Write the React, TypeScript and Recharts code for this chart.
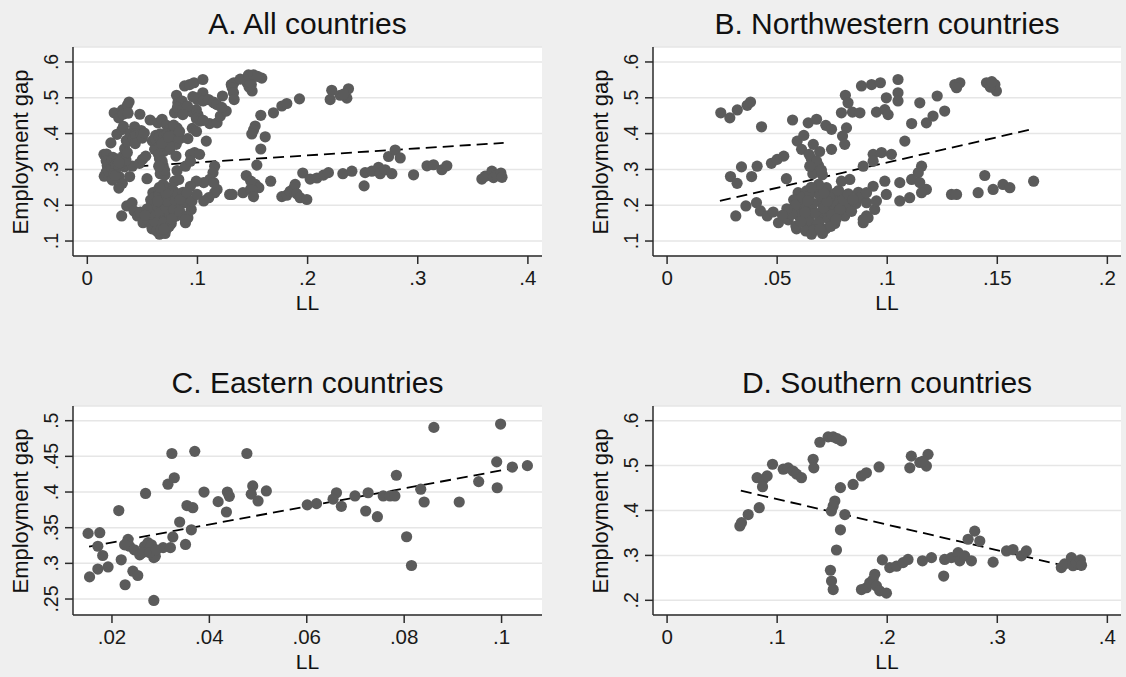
import { ScatterChart, Scatter, XAxis, YAxis, CartesianGrid, ReferenceLine } from "recharts";

// [LL, employment gap] pairs
const northwestern: [number, number][] = [
  [0.0244, 0.458], [0.0285, 0.444], [0.0319, 0.466], [0.0364, 0.479], [0.0379, 0.488], [0.0429, 0.419], [0.057, 0.438],
  [0.0288, 0.28], [0.0318, 0.261], [0.0338, 0.307], [0.0384, 0.28], [0.0409, 0.309], [0.0474, 0.317], [0.05, 0.328],
  [0.053, 0.337], [0.0542, 0.274], [0.0312, 0.17], [0.0358, 0.198], [0.0406, 0.207], [0.0424, 0.184], [0.0455, 0.17],
  [0.0482, 0.181], [0.0506, 0.151], [0.055, 0.159], [0.0588, 0.134], [0.0633, 0.144],
  [0.0595, 0.235], [0.0633, 0.24], [0.0679, 0.242], [0.0724, 0.249], [0.0762, 0.233], [0.0797, 0.226], [0.0618, 0.202],
  [0.0656, 0.193], [0.0701, 0.207], [0.0742, 0.196], [0.0785, 0.202], [0.06, 0.17], [0.0645, 0.159], [0.0691, 0.17],
  [0.0732, 0.162], [0.0773, 0.179], [0.0585, 0.142], [0.063, 0.128], [0.0676, 0.14], [0.0721, 0.134], [0.0762, 0.149],
  [0.0656, 0.119], [0.0706, 0.121], [0.0603, 0.188], [0.0671, 0.179], [0.0717, 0.184], [0.0755, 0.212], [0.0807, 0.17],
  [0.0815, 0.198],
  [0.0575, 0.215], [0.0612, 0.222], [0.0648, 0.228], [0.0695, 0.226], [0.0738, 0.222], [0.0779, 0.241], [0.0608, 0.155],
  [0.0662, 0.205], [0.0689, 0.152], [0.0709, 0.193], [0.0728, 0.211], [0.0751, 0.174], [0.0786, 0.188], [0.0801, 0.214],
  [0.0626, 0.18], [0.0582, 0.2], [0.0667, 0.131], [0.0744, 0.141], [0.0694, 0.133], [0.0638, 0.212], [0.0712, 0.234],
  [0.0768, 0.161], [0.0823, 0.232], [0.0858, 0.205], [0.0838, 0.183], [0.0869, 0.236], [0.0567, 0.175], [0.0544, 0.19],
  [0.0524, 0.172], [0.0688, 0.258], [0.0655, 0.25],
  [0.0662, 0.288], [0.0688, 0.31], [0.0705, 0.285], [0.0655, 0.33], [0.0693, 0.35],
  [0.0591, 0.379], [0.0621, 0.395], [0.0641, 0.43], [0.0679, 0.44], [0.0721, 0.423], [0.0747, 0.412], [0.0611, 0.356],
  [0.0645, 0.342], [0.0664, 0.37], [0.0679, 0.323], [0.0701, 0.298], [0.0648, 0.309], [0.0747, 0.356],
  [0.0792, 0.458], [0.081, 0.507], [0.0822, 0.486], [0.0842, 0.46], [0.0876, 0.458], [0.0883, 0.533], [0.0929, 0.537],
  [0.0815, 0.416], [0.0797, 0.393], [0.0807, 0.37], [0.0792, 0.267], [0.083, 0.272], [0.0876, 0.221], [0.0906, 0.207],
  [0.0943, 0.188], [0.0913, 0.165], [0.0891, 0.151], [0.0845, 0.216],
  [0.0969, 0.542], [0.1049, 0.551], [0.1049, 0.514], [0.1049, 0.491], [0.0996, 0.5], [0.0951, 0.46], [0.0989, 0.467],
  [0.1004, 0.453], [0.1148, 0.486], [0.1227, 0.505], [0.1111, 0.428], [0.1178, 0.43], [0.1208, 0.449], [0.1261, 0.463],
  [0.1307, 0.537], [0.133, 0.542], [0.1315, 0.528], [0.1451, 0.542], [0.1489, 0.537], [0.1496, 0.519], [0.1468, 0.53],
  [0.1475, 0.545], [0.108, 0.379], [0.0936, 0.342], [0.0974, 0.347], [0.1019, 0.342], [0.0891, 0.309], [0.0936, 0.323],
  [0.1156, 0.309], [0.1141, 0.291], [0.1111, 0.272], [0.1057, 0.263], [0.1178, 0.244], [0.1156, 0.235], [0.1102, 0.221],
  [0.1057, 0.212], [0.1148, 0.263], [0.0989, 0.267], [0.0936, 0.253], [0.0906, 0.235], [0.0951, 0.212], [0.0996, 0.23],
  [0.0906, 0.17], [0.0891, 0.16], [0.1292, 0.23], [0.1315, 0.23], [0.1413, 0.235], [0.1443, 0.283], [0.1481, 0.244],
  [0.1526, 0.258], [0.1557, 0.249], [0.1665, 0.267],
];

const eastern: [number, number][] = [
  [0.0151, 0.342], [0.0175, 0.343], [0.0171, 0.324], [0.0181, 0.311], [0.0154, 0.281], [0.0171, 0.292], [0.0192, 0.295],
  [0.0214, 0.374], [0.0219, 0.305], [0.0227, 0.27], [0.0233, 0.3335], [0.0236, 0.324], [0.0226, 0.326], [0.0243, 0.289],
  [0.0253, 0.283], [0.0246, 0.319], [0.0257, 0.312], [0.0267, 0.324], [0.0274, 0.329], [0.0281, 0.326], [0.0263, 0.315],
  [0.0286, 0.308], [0.0269, 0.398], [0.0289, 0.31], [0.0286, 0.248], [0.0305, 0.322], [0.032, 0.322], [0.0315, 0.411],
  [0.0328, 0.42], [0.0323, 0.454], [0.0325, 0.337], [0.0339, 0.358], [0.0351, 0.3265], [0.0354, 0.381], [0.0366, 0.378],
  [0.0363, 0.347], [0.037, 0.457], [0.0389, 0.4], [0.0418, 0.3865], [0.0437, 0.4], [0.0441, 0.394], [0.0435, 0.372],
  [0.0477, 0.454], [0.0489, 0.4085], [0.0486, 0.397], [0.05, 0.3875], [0.0517, 0.4015], [0.0277, 0.315], [0.0291, 0.319],
  [0.0601, 0.382], [0.062, 0.3837], [0.0661, 0.399], [0.0654, 0.39], [0.0671, 0.38], [0.0699, 0.3945], [0.0721, 0.3734],
  [0.0726, 0.399], [0.0745, 0.3654], [0.0757, 0.3945], [0.0771, 0.3945], [0.0781, 0.3945], [0.0784, 0.4235],
  [0.0805, 0.3373], [0.0815, 0.297], [0.0834, 0.404], [0.0841, 0.386], [0.0861, 0.4906], [0.0913, 0.386],
  [0.0953, 0.4146], [0.099, 0.4423], [0.0991, 0.406], [0.0998, 0.4953], [0.1022, 0.435], [0.1053, 0.437],
];

const southern: [number, number][] = [
  [0.0661, 0.3656], [0.0676, 0.373], [0.0737, 0.391], [0.0837, 0.4063], [0.0818, 0.473], [0.0873, 0.469], [0.0909, 0.477],
  [0.0867, 0.453], [0.0958, 0.503], [0.1055, 0.492], [0.11, 0.495], [0.1145, 0.488], [0.1176, 0.481], [0.1221, 0.473],
  [0.1327, 0.514], [0.1333, 0.495], [0.1388, 0.552], [0.1463, 0.564], [0.1509, 0.564], [0.1584, 0.555], [0.1545, 0.56],
  [0.1575, 0.451], [0.1524, 0.421], [0.1509, 0.41], [0.1493, 0.399], [0.1615, 0.391], [0.1575, 0.357], [0.1539, 0.312],
  [0.1484, 0.267], [0.1494, 0.243], [0.1509, 0.224], [0.169, 0.458], [0.1766, 0.477], [0.1811, 0.484], [0.1926, 0.497],
  [0.1766, 0.224], [0.1811, 0.228], [0.1841, 0.239], [0.1871, 0.246], [0.1887, 0.258], [0.1902, 0.232], [0.1932, 0.221],
  [0.1993, 0.216], [0.1956, 0.29], [0.2023, 0.273],
  [0.2219, 0.521], [0.2205, 0.495], [0.2296, 0.507], [0.2356, 0.499], [0.2371, 0.525], [0.2326, 0.51],
  [0.2084, 0.276], [0.2144, 0.284], [0.2189, 0.291], [0.232, 0.288], [0.2402, 0.295], [0.2513, 0.254], [0.2522, 0.291],
  [0.2583, 0.295], [0.2644, 0.306], [0.2659, 0.288], [0.2704, 0.299], [0.2765, 0.288], [0.2735, 0.336], [0.2795, 0.354],
  [0.2841, 0.332], [0.2962, 0.285], [0.3084, 0.31], [0.3143, 0.313], [0.3219, 0.299], [0.3264, 0.31], [0.3582, 0.273],
  [0.3612, 0.281], [0.3673, 0.295], [0.3688, 0.277], [0.3718, 0.284], [0.3755, 0.29], [0.3765, 0.278],
];

const allCountries = [...northwestern, ...eastern, ...southern];

// fitted-line end points
const fitAll: [number, number][] = [[0.0146, 0.3026], [0.378, 0.374]];
const fitNorthwest: [number, number][] = [[0.024, 0.212], [0.167, 0.414]];
const fitEast: [number, number][] = [[0.0153, 0.3234], [0.1048, 0.4364]];
const fitSouth: [number, number][] = [[0.067, 0.444], [0.377, 0.268]];

const ticksLL04 = [0, 0.1, 0.2, 0.3, 0.4];
const ticksLL02 = [0, 0.05, 0.1, 0.15, 0.2];
const ticksLLEast = [0.02, 0.04, 0.06, 0.08, 0.1];
const ticksGap = [0.1, 0.2, 0.3, 0.4, 0.5, 0.6];
const ticksGapEast = [0.25, 0.3, 0.35, 0.4, 0.45, 0.5];
const ticksGapSouth = [0.2, 0.3, 0.4, 0.5, 0.6];

const FONT = '"Liberation Sans", Arial, sans-serif';
const MARKER = "#5b5b5b";
const INK = "#1a1a1a";

const fmt = (v: number) => (v === 0 ? "0" : String(v).replace(/^0\./, "."));

const YTick = (props: any) => {
  const { x, y, payload } = props;
  return (
    <text
      x={x}
      y={y}
      dy="0.36em"
      transform={`rotate(-90 ${x} ${y})`}
      textAnchor="middle"
      fontSize={19.5}
      fontFamily={FONT}
      fill={INK}
    >
      {fmt(payload.value)}
    </text>
  );
};

const Dot = (props: any) => <circle cx={props.cx} cy={props.cy} r={5.6} fill={MARKER} />;

type PanelProps = {
  title: string;
  points: [number, number][];
  fit: [number, number][];
  xDomain: [number, number];
  yDomain: [number, number];
  xTicks: number[];
  yTicks: number[];
  left: number;
  top: number;
  width: number;
  height: number;
  marginTop: number;
  marginRight: number;
};

function Panel(p: PanelProps) {
  const yAxisW = 73;
  const xAxisH = 56;
  const marginBottom = p.height - p.marginTop - 209 - xAxisH;
  const plotW = p.width - yAxisW - p.marginRight;
  const plotCx = yAxisW + plotW / 2;
  const plotTop = p.marginTop;
  const plotBottom = p.marginTop + 209;
  const data = p.points.map(([x, y]) => ({ x, y }));
  return (
    <div style={{ position: "absolute", left: p.left, top: p.top, width: p.width, height: p.height }}>
      <ScatterChart
        width={p.width}
        height={p.height}
        margin={{ top: p.marginTop, right: p.marginRight, bottom: marginBottom, left: 0 }}
      >
        <CartesianGrid vertical={false} fill="#ffffff" stroke="#e6e6e6" strokeWidth={1.5} />
        <XAxis
          type="number"
          dataKey="x"
          domain={p.xDomain}
          ticks={p.xTicks}
          allowDataOverflow
          tickFormatter={fmt}
          height={xAxisH}
          tickSize={8}
          tickMargin={6}
          tick={{ fontSize: 20.5, fontFamily: FONT, fill: INK }}
          axisLine={{ stroke: "#2b2b2b", strokeWidth: 1.5 }}
          tickLine={{ stroke: "#2b2b2b", strokeWidth: 1.5 }}
        />
        <YAxis
          type="number"
          dataKey="y"
          domain={p.yDomain}
          ticks={p.yTicks}
          allowDataOverflow
          width={yAxisW}
          tickSize={8}
          tickMargin={14}
          tick={<YTick />}
          axisLine={{ stroke: "#2b2b2b", strokeWidth: 1.5 }}
          tickLine={{ stroke: "#2b2b2b", strokeWidth: 1.5 }}
        />
        <Scatter data={data} shape={Dot} isAnimationActive={false} />
        <ReferenceLine
          segment={[
            { x: p.fit[0][0], y: p.fit[0][1] },
            { x: p.fit[1][0], y: p.fit[1][1] },
          ]}
          stroke="#000"
          strokeWidth={1.8}
          strokeDasharray="11 6"
        />
      </ScatterChart>
      <div
        style={{
          position: "absolute",
          left: yAxisW,
          width: plotW,
          top: plotTop - 47,
          height: 48,
          lineHeight: "48px",
          textAlign: "center",
          fontFamily: FONT,
          fontSize: 30,
          color: "#111",
          whiteSpace: "nowrap",
        }}
      >
        {p.title}
      </div>
      <div
        style={{
          position: "absolute",
          left: 21,
          top: (plotTop + plotBottom) / 2,
          transform: "translate(-50%, -50%) rotate(-90deg)",
          fontFamily: FONT,
          fontSize: 22,
          lineHeight: 1,
          color: "#111",
          whiteSpace: "nowrap",
        }}
      >
        Employment gap
      </div>
      <div
        style={{
          position: "absolute",
          left: plotCx,
          top: plotBottom + 46,
          transform: "translate(-50%, -50%)",
          fontFamily: FONT,
          fontSize: 21,
          lineHeight: 1,
          color: "#111",
        }}
      >
        LL
      </div>
    </div>
  );
}

export default function App() {
  return (
    <div
      style={{
        position: "absolute",
        left: 0,
        top: 0,
        width: 1126,
        height: 677,
        background: "#efefef",
        overflow: "hidden",
      }}
    >
      <Panel
        title="A. All countries"
        points={allCountries}
        fit={fitAll}
        xDomain={[-0.013, 0.4128]}
        yDomain={[0.0582, 0.6418]}
        xTicks={ticksLL04}
        yTicks={ticksGap}
        left={0}
        top={0}
        width={563}
        height={338}
        marginTop={47}
        marginRight={21}
      />
      <Panel
        title="B. Northwestern countries"
        points={northwestern}
        fit={fitNorthwest}
        xDomain={[-0.0064, 0.2062]}
        yDomain={[0.0582, 0.6418]}
        xTicks={ticksLL02}
        yTicks={ticksGap}
        left={580}
        top={0}
        width={546}
        height={338}
        marginTop={47}
        marginRight={5}
      />
      <Panel
        title="C. Eastern countries"
        points={eastern}
        fit={fitEast}
        xDomain={[0.012, 0.1083]}
        yDomain={[0.2276, 0.5206]}
        xTicks={ticksLLEast}
        yTicks={ticksGapEast}
        left={0}
        top={338}
        width={563}
        height={339}
        marginTop={68}
        marginRight={21}
      />
      <Panel
        title="D. Southern countries"
        points={southern}
        fit={fitSouth}
        xDomain={[-0.0128, 0.4124]}
        yDomain={[0.1673, 0.6327]}
        xTicks={ticksLL04}
        yTicks={ticksGapSouth}
        left={580}
        top={338}
        width={546}
        height={339}
        marginTop={68}
        marginRight={5}
      />
    </div>
  );
}
